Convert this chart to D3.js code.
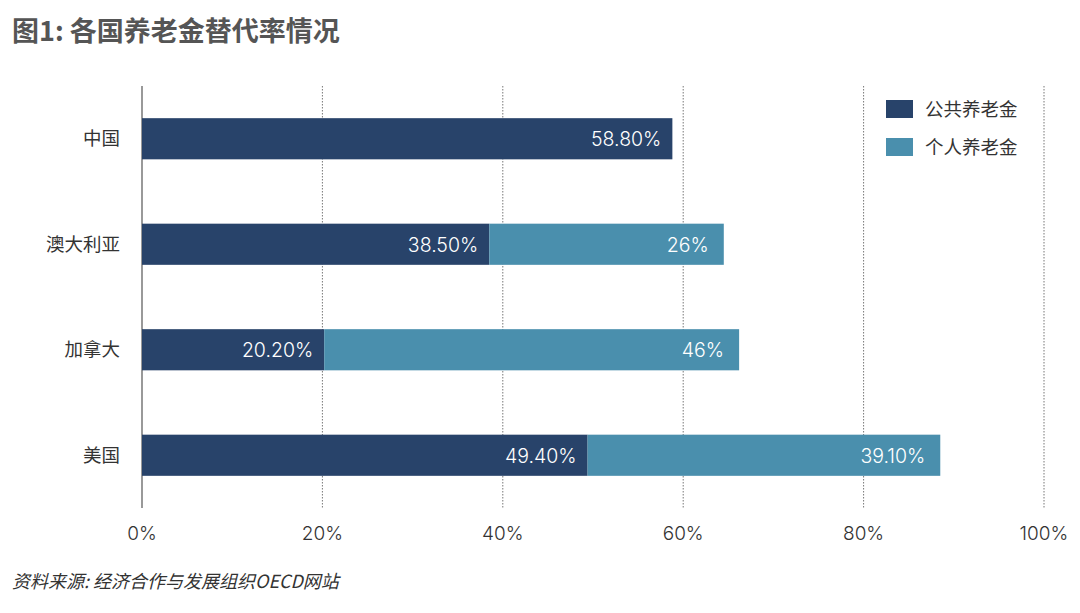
<!DOCTYPE html>
<html><head><meta charset="utf-8">
<script src="https://cdn.jsdelivr.net/npm/d3@7/dist/d3.min.js"></script>
<style>
body{margin:0;background:#fff;}
svg text{font-family:"Inter","Liberation Sans","Noto Sans CJK SC",sans-serif;}
.num{font-weight:300;}
.cjk{font-family:"Noto Sans CJK SC",sans-serif !important;}
</style></head>
<body><svg id="c" width="1080" height="613"></svg>
<script>
const categories = ["中国","澳大利亚","加拿大","美国"];
const publicValues = [58.8, 38.5, 20.2, 49.4];
const privateValues = [0, 26, 46, 39.1];
const publicLabels = ["58.80%","38.50%","20.20%","49.40%"];
const privateLabels = ["","26%","46%","39.10%"];
const seriesNames = ["公共养老金","个人养老金"];
const xTicks = [0,20,40,60,80,100];

const colors = ["#28436a","#4a8fad"];
const svg = d3.select("#c");
const x = d3.scaleLinear().domain([0,100]).range([142,1044]);
const y = d3.scaleBand().domain(categories).range([86,508]).paddingInner(0.61).paddingOuter(0.305);

svg.append("text").attr("class","cjk").attr("x",12).attr("y",41).attr("font-size",27).attr("font-weight","bold")
  .attr("fill","#555").text("图1: 各国养老金替代率情况");

// grid
svg.append("g").selectAll("line").data(xTicks.slice(1)).join("line")
  .attr("x1",d=>x(d)).attr("x2",d=>x(d)).attr("y1",86).attr("y2",508)
  .attr("stroke","#777").attr("stroke-width",1).attr("stroke-dasharray","1.5,1.5");
svg.append("line").attr("x1",x(0)).attr("x2",x(0)).attr("y1",86).attr("y2",508)
  .attr("stroke","#555").attr("stroke-width",1.2);

// x tick labels
svg.append("g").selectAll("text").data(xTicks).join("text").attr("class","num")
  .attr("x",d=>x(d)).attr("y",540).attr("text-anchor","middle").attr("font-size",19)
  .attr("fill","#333").text(d=>d+"%");

// category labels
svg.append("g").selectAll("text").data(categories).join("text").attr("class","cjk")
  .attr("x",120).attr("y",d=>y(d)+y.bandwidth()/2+6.5).attr("text-anchor","end")
  .attr("font-size",18.5).attr("fill","#333").text(d=>d);

const data = categories.map((c,i)=>({c,p:publicValues[i],q:privateValues[i],pl:publicLabels[i],ql:privateLabels[i]}));
const g = svg.append("g");
g.selectAll("rect.pub").data(data).join("rect").attr("class","pub")
  .attr("x",x(0)).attr("y",d=>y(d.c)).attr("width",d=>x(d.p)-x(0)).attr("height",y.bandwidth()).attr("fill",colors[0]);
g.selectAll("rect.pri").data(data.filter(d=>d.q>0)).join("rect").attr("class","pri")
  .attr("x",d=>x(d.p)).attr("y",d=>y(d.c)).attr("width",d=>x(d.p+d.q)-x(d.p)).attr("height",y.bandwidth()).attr("fill",colors[1]);
g.selectAll("text.pl").data(data).join("text").attr("class","pl num")
  .attr("x",d=>x(d.p)-11).attr("y",d=>y(d.c)+y.bandwidth()/2+7.5).attr("text-anchor","end")
  .attr("font-size",19.5).attr("fill","#fff").text(d=>d.pl);
g.selectAll("text.ql").data(data.filter(d=>d.q>0)).join("text").attr("class","ql num")
  .attr("x",d=>x(d.p+d.q)-15).attr("y",d=>y(d.c)+y.bandwidth()/2+7.5).attr("text-anchor","end")
  .attr("font-size",19.5).attr("fill","#fff").text(d=>d.ql);

// legend
const lg = svg.append("g");
seriesNames.forEach((n,i)=>{
  lg.append("rect").attr("x",886).attr("y",100+i*38).attr("width",27).attr("height",18).attr("fill",colors[i]);
  lg.append("text").attr("class","cjk").attr("x",925).attr("y",115.5+i*38).attr("font-size",18.5).attr("fill","#333").text(n);
});

svg.append("text").attr("class","cjk").attr("x",12).attr("y",588).attr("font-size",18).attr("font-style","italic")
  .attr("fill","#333").text("资料来源: 经济合作与发展组织OECD网站");
</script></body></html>
